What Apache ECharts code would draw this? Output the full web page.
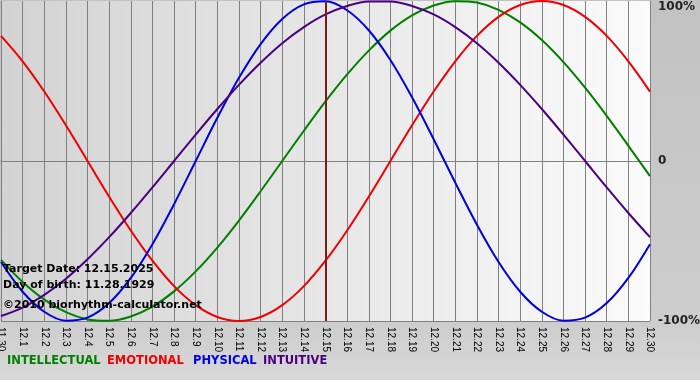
<!DOCTYPE html>
<html>
<head>
<meta charset="utf-8">
<script src="https://cdn.jsdelivr.net/npm/echarts@6/dist/echarts.min.js"></script>
<style>
html,body{margin:0;padding:0;background:#c4c4c4;}
#chart{width:700px;height:380px;}
</style>
</head>
<body>
<div id="chart"></div>
<script>
const dates = ['11.30','12.1','12.2','12.3','12.4','12.5','12.6','12.7','12.8','12.9','12.10',
  '12.11','12.12','12.13','12.14','12.15','12.16','12.17','12.18','12.19','12.20',
  '12.21','12.22','12.23','12.24','12.25','12.26','12.27','12.28','12.29','12.30'];

const intellectual = [-0.618,-0.756,-0.866,-0.945,-0.990,-0.999,-0.972,-0.910,-0.815,-0.690,-0.541,
  -0.372,-0.189,0.000,0.189,0.372,0.541,0.690,0.815,0.910,0.972,
  0.999,0.990,0.945,0.866,0.756,0.618,0.458,0.282,0.095,-0.095];
const emotional = [0.782,0.623,0.434,0.223,0.000,-0.223,-0.434,-0.623,-0.782,-0.901,-0.975,
  -1.000,-0.975,-0.901,-0.782,-0.623,-0.434,-0.223,0.000,0.223,0.434,
  0.623,0.782,0.901,0.975,1.000,0.975,0.901,0.782,0.623,0.434];
const physical = [-0.631,-0.817,-0.942,-0.998,-0.979,-0.888,-0.731,-0.520,-0.270,0.000,0.270,
  0.520,0.731,0.888,0.979,0.998,0.942,0.817,0.631,0.398,0.136,
  -0.136,-0.398,-0.631,-0.817,-0.942,-0.998,-0.979,-0.888,-0.731,-0.520];
const intuitive = [-0.969,-0.916,-0.837,-0.736,-0.614,-0.476,-0.325,-0.165,0.000,0.165,0.325,
  0.476,0.614,0.736,0.837,0.916,0.969,0.997,0.997,0.969,0.916,
  0.837,0.736,0.614,0.476,0.325,0.165,0.000,-0.165,-0.325,-0.476];

const yTicks = {'1':'100%','0':'0','-1':'-100%'};
const targetDate = '12.15';
const infoLines = ['Target Date: 12.15.2025','Day of birth: 11.28.1929','\u00A92010 biorhythm-calculator.net'];
const legendNames = ['INTELLECTUAL','EMOTIONAL','PHYSICAL','INTUITIVE'];

const colors = {INTELLECTUAL:'#008000', EMOTIONAL:'#f00000', PHYSICAL:'#0000e0', INTUITIVE:'#4b0082'};

const chart = echarts.init(document.getElementById('chart'), null, {renderer:'canvas'});

function lineSeries(name, data, extra){
  return Object.assign({
    name: name, type:'line', data: data, smooth: 0.333, symbol:'none',
    lineStyle:{color: colors[name], width:2}, itemStyle:{color: colors[name]},
    silent:true
  }, extra||{});
}

const infoY = [271, 287, 307];
const legendX = [7, 107, 193, 263];

const graphics = [];
infoLines.forEach((t,i)=>{
  graphics.push({type:'text', left: 3, top: infoY[i]-7, z: 100,
    style:{text:t, font:'bold 11px "DejaVu Sans"', fill:'#000'}});
});
legendNames.forEach((t,i)=>{
  graphics.push({type:'text', left: legendX[i], top: 355, z: 100,
    style:{text:t, font:'bold 11.5px "DejaVu Sans"', fill: colors[t]}});
});

chart.setOption({
  animation:false,
  backgroundColor: {type:'linear', x:0, y:0, x2:0, y2:1, colorStops:[
    {offset:0, color:'#c2c2c2'},{offset:0.85, color:'#cdcdcd'},{offset:1, color:'#d8d8d8'}]},
  grid:{left:1, right:50, top:1, bottom:59, show:true, borderWidth:0, containLabel:false, outerBoundsMode:'none',
    backgroundColor:{type:'linear', x:0, y:0, x2:1, y2:0, colorStops:[
      {offset:0, color:'#d3d3d3'},{offset:1, color:'#fbfbfb'}]}},
  xAxis:{
    type:'category', data: dates, boundaryGap:false,
    axisLine:{show:true, lineStyle:{color:'#808080', width:1}},
    axisTick:{show:true, interval:0, length:5, lineStyle:{color:'#808080'}},
    splitLine:{show:true, interval:0, lineStyle:{color:'#808080', width:1}},
    axisLabel:{interval:0, rotate:-90, margin:6, fontSize:10, fontFamily:'"Liberation Sans", Arial, sans-serif', color:'#000'}
  },
  yAxis:{
    type:'value', min:-1, max:1, interval:1, position:'right',
    axisLine:{show:false}, axisTick:{show:false},
    splitLine:{show:true, lineStyle:{color:['#808080','#808080','rgba(0,0,0,0)'], width:1}},
    axisLabel:{margin:8, align:'left', fontSize:12, fontWeight:'bold', fontFamily:'"DejaVu Sans"', color:'#222',
      verticalAlignMaxLabel:'top',
      formatter: v => yTicks[String(v)] }
  },
  graphic: graphics,
  series:[
    lineSeries('INTELLECTUAL', intellectual),
    lineSeries('EMOTIONAL', emotional),
    lineSeries('PHYSICAL', physical),
    lineSeries('INTUITIVE', intuitive, {
      markLine:{silent:true, symbol:['none','none'], label:{show:false},
        lineStyle:{color:'#7a1c1c', width:2, type:'solid'},
        data:[{xAxis: targetDate}]}
    })
  ]
});
</script>
</body>
</html>
